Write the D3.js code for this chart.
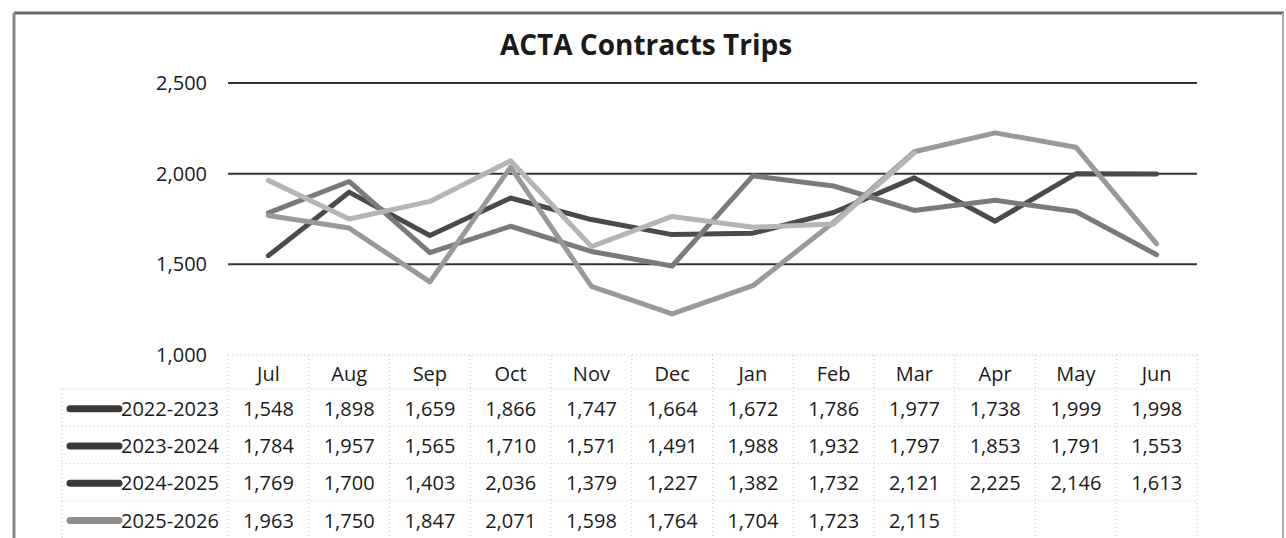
<!doctype html>
<html>
<head>
<meta charset="utf-8">
<style>
    body { margin: 0; background: white; }
    text { font-family: "Open Sans", "Liberation Sans", sans-serif; fill: #1a1a1a; }
    .title { font-weight: bold; font-size: 28px; }
    .tick { font-size: 20px; }
    .cell { font-size: 20px; }
</style>
<script src="https://d3js.org/d3.v7.min.js"></script>
</head>
<body>
<svg width="1286" height="538" id="chart"></svg>
<script>

var months = ["Jul", "Aug", "Sep", "Oct", "Nov", "Dec", "Jan", "Feb", "Mar", "Apr", "May", "Jun"];
var seriesNames = ["2022-2023", "2023-2024", "2024-2025", "2025-2026"];
var trips2022 = [1548, 1898, 1659, 1866, 1747, 1664, 1672, 1786, 1977, 1738, 1999, 1998];
var trips2023 = [1784, 1957, 1565, 1710, 1571, 1491, 1988, 1932, 1797, 1853, 1791, 1553];
var trips2024 = [1769, 1700, 1403, 2036, 1379, 1227, 1382, 1732, 2121, 2225, 2146, 1613];
var trips2025 = [1963, 1750, 1847, 2071, 1598, 1764, 1704, 1723, 2115];
var yTicks = [1000, 1500, 2000, 2500];

var seriesValues = [trips2022, trips2023, trips2024, trips2025];
var colors = ["#4a4a4a", "#7a7a7a", "#999999", "#b5b5b5"];

var svg = d3.select("#chart");

// outer frame of the scanned chart
svg.append("line").attr("x1", 14).attr("x2", 1284).attr("y1", 13).attr("y2", 13)
   .attr("stroke", "#666").attr("stroke-width", 3);
svg.append("line").attr("x1", 14).attr("x2", 14).attr("y1", 13).attr("y2", 538)
   .attr("stroke", "#888").attr("stroke-width", 3);
svg.append("line").attr("x1", 1283).attr("x2", 1283).attr("y1", 13).attr("y2", 538)
   .attr("stroke", "#aaa").attr("stroke-width", 2);

svg.append("text")
   .attr("class", "title")
   .attr("x", 646)
   .attr("y", 55)
   .attr("text-anchor", "middle")
   .text("ACTA Contracts Trips");

var left = 228, right = 1197;
var x = d3.scaleBand().domain(months).range([left, right]);
var y = d3.scaleLinear().domain([1000, 2500]).range([355, 83]);

// gridlines (no line at 1,000, the table sits there)
svg.selectAll(".grid")
   .data(yTicks.filter(function(d) { return d > 1000; }))
   .enter().append("line")
   .attr("class", "grid")
   .attr("x1", left).attr("x2", right)
   .attr("y1", function(d) { return y(d); })
   .attr("y2", function(d) { return y(d); })
   .attr("stroke", "#333")
   .attr("stroke-width", 2);

svg.selectAll(".tick")
   .data(yTicks)
   .enter().append("text")
   .attr("class", "tick")
   .attr("x", 207)
   .attr("y", function(d) { return y(d); })
   .attr("dy", "0.35em")
   .attr("text-anchor", "end")
   .text(function(d) { return d3.format(",")(d); });

var line = d3.line()
    .x(function(d, i) { return x(months[i]) + x.bandwidth() / 2; })
    .y(function(d) { return y(d); });

svg.selectAll(".series")
   .data(seriesValues)
   .enter().append("path")
   .attr("class", "series")
   .attr("d", line)
   .attr("fill", "none")
   .attr("stroke", function(d, i) { return colors[i]; })
   .attr("stroke-width", 5)
   .attr("stroke-linejoin", "round")
   .attr("stroke-linecap", "round");

// data table under the plot, faint dotted borders like the scan
var headerTop = 355, headerBottom = 389, rowH = 37.3;
var tableLeft = 62;
var border = { stroke: "#c4c4c4", dash: "1,3" };

function hline(x1, x2, yy) {
    svg.append("line").attr("x1", x1).attr("x2", x2).attr("y1", yy).attr("y2", yy)
       .attr("stroke", border.stroke).attr("stroke-dasharray", border.dash).attr("stroke-width", 1);
}
function vline(xx, y1, y2) {
    svg.append("line").attr("x1", xx).attr("x2", xx).attr("y1", y1).attr("y2", y2)
       .attr("stroke", border.stroke).attr("stroke-dasharray", border.dash).attr("stroke-width", 1);
}

hline(left, right, headerTop);
for (var r = 0; r < 4; r++) {
    hline(tableLeft, right, headerBottom + r * rowH);
}
vline(tableLeft, headerBottom, 538);
months.forEach(function(m) {
    vline(x(m), headerTop, 538);
});
vline(right, headerTop, 538);

svg.selectAll(".month")
   .data(months)
   .enter().append("text")
   .attr("class", "cell month")
   .attr("x", function(d) { return x(d) + x.bandwidth() / 2; })
   .attr("y", (headerTop + headerBottom) / 2 + 2)
   .attr("dy", "0.35em")
   .attr("text-anchor", "middle")
   .text(function(d) { return d; });

seriesValues.forEach(function(vals, s) {
    var cy = headerBottom + s * rowH + rowH / 2 + 1;

    svg.append("line")
       .attr("x1", 70).attr("x2", 119)
       .attr("y1", cy).attr("y2", cy)
       .attr("stroke", s === 3 ? "#8c8c8c" : "#3a3a3a")
       .attr("stroke-width", 7)
       .attr("stroke-linecap", "round");

    svg.append("text")
       .attr("class", "cell")
       .attr("x", 121)
       .attr("y", cy)
       .attr("dy", "0.35em")
       .text(seriesNames[s]);

    svg.selectAll(".v" + s)
       .data(vals)
       .enter().append("text")
       .attr("class", "cell v" + s)
       .attr("x", function(d, i) { return x(months[i]) + x.bandwidth() / 2; })
       .attr("y", cy)
       .attr("dy", "0.35em")
       .attr("text-anchor", "middle")
       .text(function(d) { return d3.format(",")(d); });
});

</script>
</body>
</html>
